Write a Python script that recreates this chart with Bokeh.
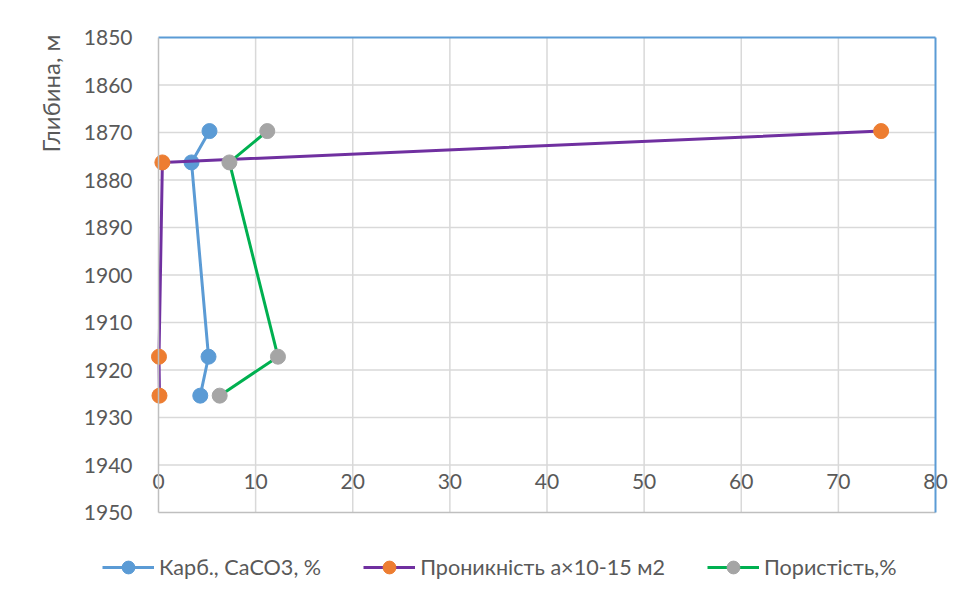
import math
from bokeh.plotting import figure
from bokeh.models import (Range1d, LinearAxis, Legend, LegendItem, Label,
                          FixedTicker, ColumnDataSource)
from bokeh.embed import file_html
from bokeh.resources import INLINE

# data
depth = [1869.7, 1876.3, 1917.2, 1925.4]
carb = [5.25, 3.4, 5.15, 4.3]
perm = [74.4, 0.4, 0.05, 0.1]
poro = [11.2, 7.3, 12.3, 6.3]
x_ticks = [0, 10, 20, 30, 40, 50, 60, 70, 80]
y_ticks = [1850, 1860, 1870, 1880, 1890, 1900, 1910, 1920, 1930, 1940, 1950]
names = ["Карб., СаСО3, %", "Проникність а×10-15 м2", "Пористість,%"]

FONT = "Lato"
TXT = "#595959"
W, H = 976, 598

# plot area geometry (pixels) -> ranges so that the frame fills the canvas
X0, X1 = x_ticks[0], x_ticks[-1]
Y0, Y1 = y_ticks[0], y_ticks[-1]
px_left, px_right, px_top, px_bottom = 158, 935, 37, 512
sx = (px_right - px_left) / (X1 - X0)
sy = (px_bottom - px_top) / (Y1 - Y0)
xr = Range1d(X0 - px_left / sx, X1 + (W - px_right) / sx)
yr = Range1d(Y1 + (H - px_bottom) / sy, Y0 - px_top / sy)

p = figure(width=W, height=H, output_backend="svg", toolbar_location=None,
           x_range=xr, y_range=yr, x_axis_type=None, y_axis_type=None,
           min_border=0)
p.outline_line_color = None

# grid lines limited to the plot area, from the tick lists
GRID = "#D9D9D9"
p.segment(x0=x_ticks[1:-1], y0=[Y0] * (len(x_ticks) - 2),
          x1=x_ticks[1:-1], y1=[Y1] * (len(x_ticks) - 2),
          line_color=GRID, line_width=1.5)
p.segment(x0=[X0] * (len(y_ticks) - 2), y0=y_ticks[1:-1],
          x1=[X1] * (len(y_ticks) - 2), y1=y_ticks[1:-1],
          line_color=GRID, line_width=1.5)

common = dict(major_tick_line_color=None, minor_tick_line_color=None)

left = LinearAxis(fixed_location=X0, bounds=(Y0, Y1), ticker=FixedTicker(ticks=y_ticks),
                  axis_line_color="#BFBFBF", axis_line_width=1.5,
                  major_label_text_font=FONT, major_label_text_font_size="21px",
                  major_label_text_color=TXT, major_label_standoff=20, **common)
p.add_layout(left, "left")

bottom = LinearAxis(fixed_location=Y1, bounds=(X0, X1), ticker=FixedTicker(ticks=[]),
                    axis_line_color="#BFBFBF", axis_line_width=1.5,
                    major_label_text_alpha=0, **common)
p.add_layout(bottom, "below")

xlabels = LinearAxis(fixed_location=1940, bounds=(X0, X1), ticker=FixedTicker(ticks=x_ticks),
                     axis_line_color=None, major_label_text_font=FONT,
                     major_label_text_font_size="21px", major_label_text_color=TXT,
                     major_label_standoff=3, **common)
p.add_layout(xlabels, "below")

top = LinearAxis(fixed_location=Y0, bounds=(X0, X1), ticker=FixedTicker(ticks=[]),
                 axis_line_color="#5B9BD5", axis_line_width=2,
                 major_label_text_alpha=0, **common)
p.add_layout(top, "above")

right = LinearAxis(fixed_location=X1, bounds=(Y0, Y1), ticker=FixedTicker(ticks=[]),
                   axis_line_color="#5B9BD5", axis_line_width=2,
                   major_label_text_alpha=0, **common)
p.add_layout(right, "right")

series = [(carb, "#5B9BD5", "#5B9BD5"), (perm, "#7030A0", "#ED7D31"),
          (poro, "#00B050", "#A5A5A5")]
items = []
for (vals, lc, mc), name in zip(series, names):
    src = ColumnDataSource(dict(x=vals, y=depth))
    r1 = p.line("x", "y", source=src, line_color=lc, line_width=3)
    r2 = p.scatter("x", "y", source=src, size=15, fill_color=mc, line_color=mc)
    items.append(LegendItem(label=name, renderers=[r1, r2]))

legend = Legend(items=items, orientation="horizontal", location=(102, 15),
                border_line_color=None, background_fill_alpha=0,
                label_text_font=FONT, label_text_font_size="21.6px",
                label_text_color=TXT, glyph_width=52, glyph_height=32,
                label_standoff=5, spacing=42, padding=0, margin=0)
p.add_layout(legend)

ylab = Label(x=50, y=H - 93, x_units="screen", y_units="screen", text="Глибина, м",
             angle=math.pi / 2, text_font=FONT, text_font_size="24px", text_color=TXT,
             text_align="center", text_baseline="middle")
p.add_layout(ylab)

open("out.html", "w").write(file_html(p, INLINE))
